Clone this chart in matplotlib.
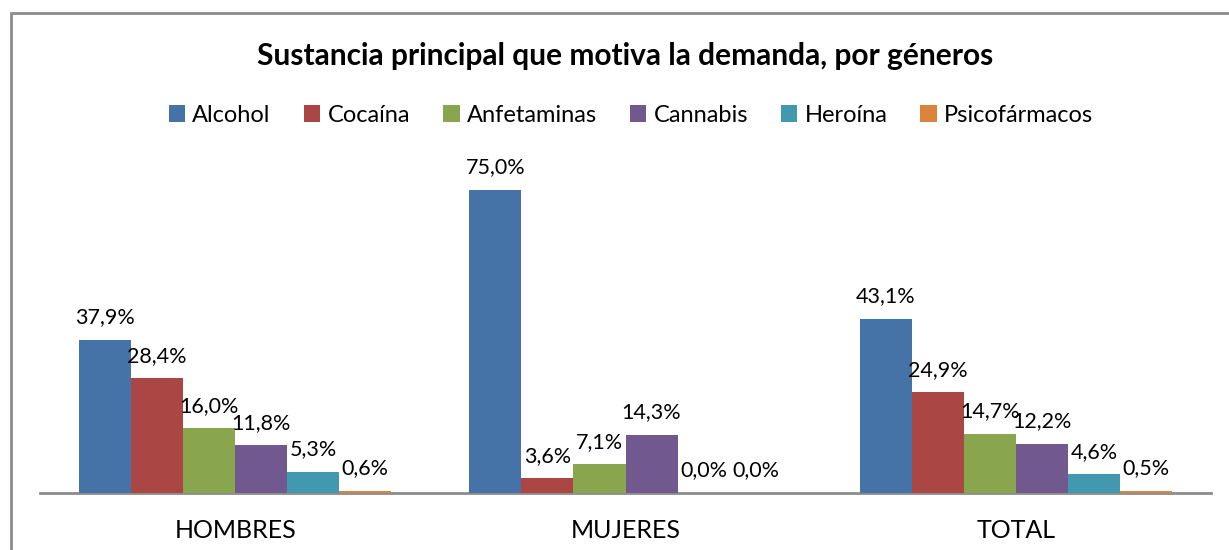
import matplotlib
matplotlib.use("Agg")
import matplotlib.pyplot as plt
import numpy as np
from matplotlib.patches import Rectangle

plt.rcParams["font.family"] = ["Lato", "DejaVu Sans"]

# ── datos ─────────────────────────
categorias = ["HOMBRES", "MUJERES", "TOTAL"]
sustancias = ["Alcohol", "Cocaína", "Anfetaminas", "Cannabis", "Heroína", "Psicofármacos"]
alcohol = [37.9, 75.0, 43.1]
cocaina = [28.4, 3.6, 24.9]
anfetaminas = [16.0, 7.1, 14.7]
cannabis = [11.8, 14.3, 12.2]
heroina = [5.3, 0.0, 4.6]
psicofarmacos = [0.6, 0.0, 0.5]
series = [alcohol, cocaina, anfetaminas, cannabis, heroina, psicofarmacos]

COLORES = ["#4572A7", "#AA4643", "#89A54E", "#71588F", "#4198AF", "#DB843D"]

W, H = 1229, 550
fig = plt.figure(figsize=(W / 100, H / 100), dpi=100)
fig.patch.set_facecolor("white")

# marco gris del gráfico (cortado a la derecha y abajo)
fig.patches.append(Rectangle((11 / W, -0.1), 2.0, (H - 13) / H + 0.1,
                             transform=fig.transFigure, fill=False,
                             edgecolor="#8c8c8c", linewidth=2))

ax = fig.add_axes([40 / W, 57 / H, (1211 - 40) / W, (493 - 150) / H])
x = np.arange(len(categorias))
bw = 0.8 / len(series)

for i, (nombre, vals, col) in enumerate(zip(sustancias, series, COLORES)):
    pos = x - 0.4 + bw * (i + 0.5)
    ax.bar(pos, vals, width=bw, color=col, linewidth=0, label=nombre, zorder=3)
    for px, v in zip(pos, vals):
        ax.annotate(f"{v:.1f}%".replace(".", ","), (px, v), xytext=(0, 12),
                    textcoords="offset points", ha="center", va="baseline",
                    fontsize=15.5)

ax.set_xlim(-0.5, 2.5)
ax.set_ylim(0, 84.9)
ax.set_yticks([])
ax.set_xticks(x)
ax.set_xticklabels(categorias, fontsize=18)
ax.tick_params(axis="x", length=0, pad=19)
for s in ["top", "left", "right"]:
    ax.spines[s].set_visible(False)
ax.spines["bottom"].set_color("#8c8c8c")
ax.spines["bottom"].set_linewidth(2)
ax.spines["bottom"].set_zorder(1)

fig.text(625 / W, 1 - 56 / H, "Sustancia principal que motiva la demanda, por géneros",
         ha="center", va="center", fontsize=21.5, fontweight="bold")

fig.legend(loc="center", bbox_to_anchor=(631 / W, 1 - 115 / H), ncol=6,
           frameon=False, fontsize=17, handlelength=0.7, handleheight=0.7,
           handletextpad=0.3, columnspacing=1.4)

fig.savefig("out.png", dpi=100, facecolor="white")
